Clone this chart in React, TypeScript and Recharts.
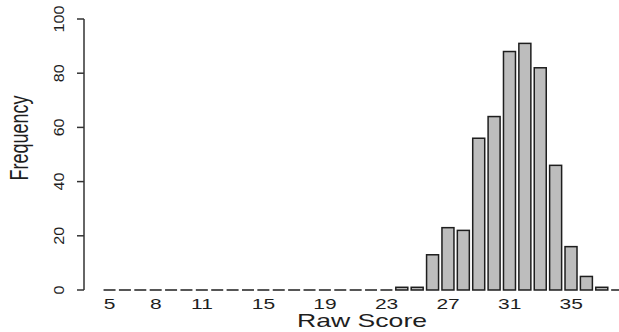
import { BarChart, Bar, XAxis, YAxis } from "recharts";

// raw score bins and how many students landed in each
const scores = [
  5, 6, 7, 8, 9, 10, 11, 12, 13, 14, 15, 16, 17, 18, 19, 20, 21, 22, 23, 24,
  25, 26, 27, 28, 29, 30, 31, 32, 33, 34, 35, 36, 37, 38,
];
const frequency = [
  0, 0, 0, 0, 0, 0, 0, 0, 0, 0, 0, 0, 0, 0, 0, 0, 0, 0, 0, 1,
  1, 13, 23, 22, 56, 64, 88, 91, 82, 46, 16, 5, 1, 0,
];
const xTicks = [5, 8, 11, 15, 19, 23, 27, 31, 35];
const yTicks = [0, 20, 40, 60, 80, 100];

const data = scores.map((s, i) => ({ score: s, count: frequency[i] }));

const FONT = "'Liberation Sans', Arial, sans-serif";
const INK = "#1e1e1e";

const HistBar = (props: any) => {
  const { x, y, width, height } = props;
  if (!height || height < 0.5) {
    return (
      <line x1={x} x2={x + width} y1={y} y2={y} stroke={INK} strokeWidth={1.5} />
    );
  }
  return (
    <rect
      x={x}
      y={y}
      width={width}
      height={height}
      fill="#bdbdbd"
      stroke={INK}
      strokeWidth={1.5}
    />
  );
};

const XTick = ({ x, y, payload }: any) => (
  <text
    transform={`translate(${x},${y + 11}) scale(1.4,1)`}
    textAnchor="middle"
    fontSize={15}
    fontFamily={FONT}
    fill={INK}
  >
    {payload.value}
  </text>
);

const YTick = ({ x, y, payload }: any) => (
  <text
    transform={`translate(${x + 2},${y}) rotate(-90) scale(1.15,1)`}
    textAnchor="middle"
    fontSize={14}
    fontFamily={FONT}
    fill={INK}
  >
    {payload.value}
  </text>
);

export default function App() {
  return (
    <div
      style={{
        position: "absolute",
        left: 0,
        top: 0,
        width: 619,
        height: 332,
        overflow: "hidden",
        background: "#fff",
      }}
    >
      <BarChart
        width={625}
        height={332}
        data={data}
        margin={{ top: 19, right: 0, bottom: 0, left: 0 }}
        barCategoryGap="10%"
      >
        <XAxis
          dataKey="score"
          ticks={xTicks}
          interval={0}
          axisLine={false}
          tickLine={false}
          height={42}
          padding={{ left: 18, right: 0 }}
          tick={<XTick />}
          label={{
            content: () => (
              <text
                transform="translate(362,327) scale(1.4,1)"
                textAnchor="middle"
                fontSize={19}
                fontFamily={FONT}
                fill={INK}
              >
                Raw Score
              </text>
            ),
          }}
        />
        <YAxis
          width={84}
          domain={[0, 100]}
          ticks={yTicks}
          interval={0}
          tickSize={7}
          tickMargin={15}
          stroke="#333"
          strokeWidth={1.5}
          tick={<YTick />}
          label={{
            content: () => (
              <text
                transform="translate(28,138) rotate(-90) scale(1,1.4)"
                textAnchor="middle"
                fontSize={18}
                fontFamily={FONT}
                fill={INK}
              >
                Frequency
              </text>
            ),
          }}
        />
        <Bar dataKey="count" shape={HistBar} isAnimationActive={false} />
      </BarChart>
    </div>
  );
}
